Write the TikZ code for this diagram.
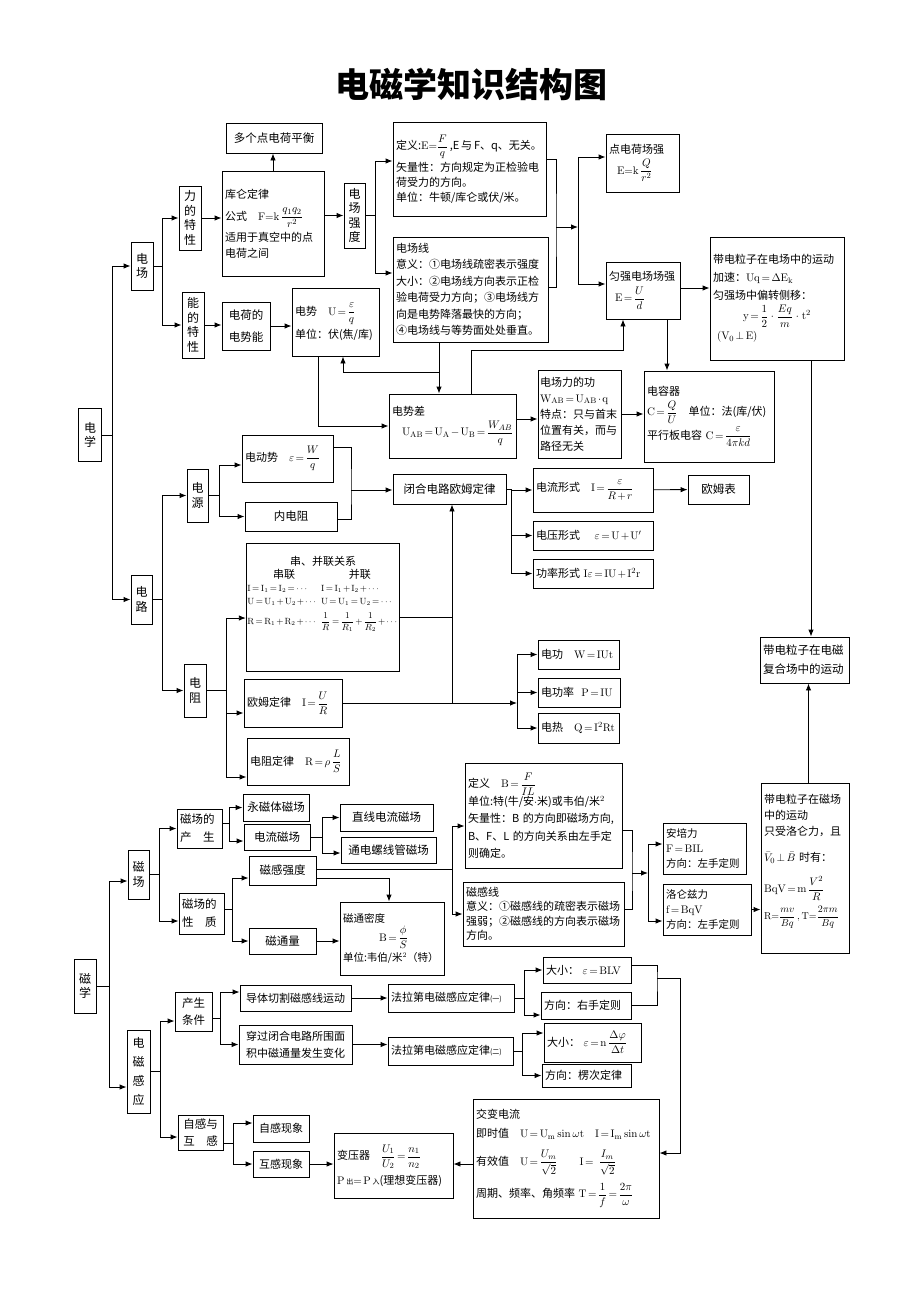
\documentclass[tikz,border=0pt]{standalone}
\usepackage[no-math]{fontspec}
\setmainfont{Noto Sans CJK SC}
\usepackage{amsmath}
\usetikzlibrary{arrows.meta}
\relpenalty=10000
\binoppenalty=10000
\thickmuskip=2.5mu
\medmuskip=2mu

\tikzset{
  box/.style={draw, inner xsep=3pt, inner ysep=2pt, align=center, font=\fontsize{11.5}{15}\selectfont},
  txt/.style={box, align=left, font=\fontsize{11}{16}\selectfont},
  vbox/.style={box, inner xsep=4pt, font=\fontsize{12}{14.5}\selectfont},
}

\begin{document}
\begin{tikzpicture}[x=1pt, y=-1pt, line width=0.9pt, >={Latex[length=7pt,width=5.5pt]}]
    \useasboundingbox (0,0) rectangle (920,1304);
    \node [font=\fontsize{34}{34}\selectfont\bfseries] (title) at (471,84) {电磁学知识结构图};

    \node [vbox, minimum width=23, minimum height=53] (dianxue) at (90,435) {电\\学};
    \node [vbox, minimum width=22, minimum height=48] (dianchang) at (142,266) {电\\场};
    \node [vbox, minimum width=22, minimum height=64] (lite) at (190,218) {力\\的\\特\\性};
    \node [vbox, minimum width=22, minimum height=66] (nengte) at (193,325) {能\\的\\特\\性};
    \node [txt, text width=96, minimum height=105] (kulun) at (273,223.5) {库仑定律\\[6pt]公式\quad $\mathrm{F{=}k}\,\dfrac{q_1q_2}{r^2}$\\[3pt]适用于真空中的点\\电荷之间};
    \node [box, minimum width=96, minimum height=30] (duoge) at (274,138) {多个点电荷平衡};
    \node [box, minimum width=48, minimum height=48, font=\fontsize{11.5}{22}\selectfont] (dianshineng) at (246,326) {电荷的\\电势能};
    \node [txt, text width=81, minimum height=68] (dianshi) at (335.5,322) {电势\quad $\mathrm{U}=\dfrac{\varepsilon}{q}$\\[4pt]单位：伏(焦/库)};
    \node [vbox, minimum width=21, minimum height=65] (qiangdu) at (354.5,215.5) {电\\场\\强\\度};
    \node [txt, text width=147, minimum height=94, font=\fontsize{11}{15}\selectfont] (dingyi) at (469.5,169) {\mbox{定义:$\mathrm{E}{=}\dfrac{F}{q}$\,,E\,与\,F、q、无关。}\\[2pt]矢量性：方向规定为正检验电\\荷受力的方向。\\单位：牛顿/库仑或伏/米。};
    \node [txt, text width=149, minimum height=105, font=\fontsize{11}{16.5}\selectfont] (dianchangxian) at (470.5,289.5) {电场线\\意义：①电场线疏密表示强度\\大小：②电场线方向表示正检\\验电荷受力方向；③电场线方\\向是电势降落最快的方向；\\④电场线与等势面处处垂直。};
    \node [txt, text width=67, minimum height=58] (dianhe) at (642.5,163) {点电荷场强\\[5pt]\hspace*{8pt}$\mathrm{E{=}k}\;\dfrac{Q}{r^2}$};
    \node [txt, text width=68, minimum height=57] (yunqiang) at (643,290.5) {匀强电场场强\\[5pt]\hspace*{6pt}$\mathrm{E}=\dfrac{U}{d}$};
    \node [txt, text width=128, minimum height=123] (lizi) at (777,298.5) {带电粒子在电场中的运动\\[2pt]加速：$\mathrm{Uq=\Delta E_k}$\\[2pt]匀强场中偏转侧移：\\[4pt]\hspace*{30pt}$\mathrm{y}=\dfrac{1}{2}\;\cdot\;\dfrac{Eq}{m}\;\cdot\,\mathrm{t}^2$\\[4pt]\hspace*{4pt}$(\mathrm{V_0\perp E})$};
    \node [txt, text width=124, minimum height=91] (dianrong) at (709,416.5) {电容器\\[4pt]$\mathrm{C}=\dfrac{Q}{U}$\quad 单位：法(库/伏)\\[3pt]平行板电容 $\mathrm{C}=\dfrac{\varepsilon}{4\pi kd}$};
    \node [txt, inner xsep=2pt, text width=79, minimum height=88] (gong) at (579.5,414) {电场力的功\\$\mathrm{W_{AB}=U_{AB}\cdot q}$\\特点：只与首末\\位置有关，而与\\路径无关};
    \node [txt, text width=121, minimum height=64] (dianshicha) at (452.5,426) {电势差\\[4pt]\hspace*{10pt}$\mathrm{U_{AB}=U_A-U_B}=\dfrac{W_{AB}}{q}$};

    \node [vbox, minimum width=21, minimum height=49] (dianlu) at (141.5,599.5) {电\\路};
    \node [vbox, minimum width=21, minimum height=53] (dianyuan) at (197.5,495.5) {电\\源};
    \node [vbox, minimum width=22, minimum height=53] (dianzu) at (195,690.5) {电\\阻};
    \node [txt, text width=85, minimum height=47] (dongshi) at (287.5,458.5) {电动势\quad $\varepsilon=\dfrac{W}{q}$};
    \node [box, minimum width=92, minimum height=29] (neizu) at (291,516.5) {内电阻};
    \node [box, minimum width=113, minimum height=30] (bihe) at (449.5,489) {闭合电路欧姆定律};
    \node [txt, text width=114, minimum height=44] (liuxing) at (593,490) {电流形式\quad $\mathrm{I}=\dfrac{\varepsilon}{R+r}$};
    \node [box, minimum width=61, minimum height=29] (oumubiao) at (718.5,489.5) {欧姆表};
    \node [txt, text width=114, minimum height=29] (yaxing) at (593,535.5) {电压形式\quad\ $\varepsilon=\mathrm{U+U'}$};
    \node [txt, text width=114, minimum height=29] (gongxing) at (593,573.5) {功率形式 $\mathrm{I}\varepsilon=\mathrm{IU+I^2r}$};
    \node [box, minimum width=152, minimum height=128, inner xsep=1pt, font=\fontsize{9}{13}\selectfont] (chuanbing) at (323,607) {\medmuskip=2mu \thickmuskip=3mu
      \begin{tabular}{@{}l@{\hspace{5pt}}l@{}}
        \multicolumn{2}{c}{\fontsize{11}{14}\selectfont 串、并联关系}\\
        \multicolumn{1}{c}{\fontsize{11}{14}\selectfont 串联} & \multicolumn{1}{c}{\fontsize{11}{14}\selectfont 并联}\\
        $\mathrm{I=I_1=I_2=\cdots}$ & $\mathrm{I=I_1+I_2+\cdots}$\\
        $\mathrm{U=U_1+U_2+\cdots}$ & $\mathrm{U=U_1=U_2=\cdots}$\\[4pt]
        $\mathrm{R=R_1+R_2+\cdots}$ & $\dfrac{1}{R}=\dfrac{1}{R_1}+\dfrac{1}{R_2}+\cdots$\\[30pt]
      \end{tabular}};
    \node [txt, text width=92, minimum height=48] (oumu) at (293,703) {欧姆定律\quad $\mathrm{I}=\dfrac{U}{R}$};
    \node [txt, text width=96, minimum height=47] (zudinglv) at (298,761.5) {电阻定律\quad $\mathrm{R}=\rho\;\dfrac{L}{S}$};
    \node [txt, text width=75, minimum height=29] (diangong) at (578.5,654.5) {电功\quad $\mathrm{W=IUt}$};
    \node [txt, text width=76, minimum height=29] (diangonglv) at (579,692.5) {电功率\ \ $\mathrm{P=IU}$};
    \node [txt, text width=75, minimum height=30] (dianre) at (578.5,728) {电热\quad $\mathrm{Q=I^2Rt}$};
    \node [txt, text width=83, minimum height=46, font=\fontsize{11.5}{19}\selectfont] (fuhe) at (804.5,660) {带电粒子在电磁\\复合场中的运动};

    \node [vbox, minimum width=22, minimum height=54] (cixue) at (85,986) {磁\\学};
    \node [vbox, minimum width=21, minimum height=49] (cichang) at (138.5,874.5) {磁\\场};
    \node [txt, text width=39, minimum height=39, font=\fontsize{11.5}{18}\selectfont] (chansheng) at (199.5,828.5) {磁场的\\产\hspace{11.5pt}生};
    \node [txt, text width=39, minimum height=41, font=\fontsize{11.5}{18}\selectfont] (xingzhi) at (201.5,913.5) {磁场的\\性\hspace{11.5pt}质};
    \node [box, minimum width=66, minimum height=27] (yongci) at (276,807.5) {永磁体磁场};
    \node [box, minimum width=66, minimum height=26] (dianliuci) at (277,837) {电流磁场};
    \node [box, minimum width=93, minimum height=27] (zhixian) at (386.5,817.5) {直线电流磁场};
    \node [box, minimum width=95, minimum height=26] (luoxian) at (388.5,850) {通电螺线管磁场};
    \node [box, minimum width=67, minimum height=29] (ciqiang) at (282.5,870.5) {磁感强度};
    \node [box, minimum width=67, minimum height=26] (citong) at (282.5,941) {磁通量};
    \node [txt, text width=98, minimum height=73, font=\fontsize{10.5}{16}\selectfont] (mitong) at (392,938.5) {磁通密度\\[3pt]\hspace*{36pt}$\mathrm{B}=\dfrac{\phi}{S}$\\[3pt]单位:韦伯/米$^2$（特）};
    \node [txt, text width=151, minimum height=105, font=\fontsize{11}{17.5}\selectfont] (dingyiB) at (543.5,815.5) {定义\quad $\mathrm{B}=\dfrac{F}{IL}$\\单位:特(牛/安$\cdot$米)或韦伯/米$^2$\\矢量性：B 的方向即磁场方向,\\B、F、L 的方向关系由左手定\\则确定。};
    \node [txt, text width=155, minimum height=64, font=\fontsize{11}{14.5}\selectfont] (ciganxian) at (543.5,914) {磁感线\\意义：①磁感线的疏密表示磁场\\强弱；②磁感线的方向表示磁场\\方向。};
    \node [txt, text width=77, minimum height=51, font=\fontsize{10.5}{15}\selectfont] (anpei) at (704.5,848.5) {安培力\\$\mathrm{F=BIL}$\\方向：左手定则};
    \node [txt, text width=82, minimum height=51, font=\fontsize{10.5}{15}\selectfont] (luolun) at (707,909.5) {洛仑兹力\\$\mathrm{f=BqV}$\\方向：左手定则};
    \node [txt, text width=82, minimum height=170] (lizici) at (805,868) {带电粒子在磁场\\中的运动\\只受洛仑力，且\\[10pt]$\bar{V}_0\perp\bar{B}$ 时有：\\[12pt]$\mathrm{BqV=m}\,\dfrac{V^2}{R}$\\[5pt]{\fontsize{10}{14}\selectfont$\mathrm{R}{=}\dfrac{mv}{Bq}\,,\mathrm{T}{=}\dfrac{2\pi m}{Bq}$}\\[6pt]\mbox{}};
    \node [vbox, minimum width=23, minimum height=83, font=\fontsize{12}{19}\selectfont] (diangan) at (138.5,1071.5) {电\\磁\\感\\应};
    \node [box, minimum width=37, minimum height=39, font=\fontsize{11.5}{17}\selectfont] (tiaojian) at (193.5,1011.5) {产生\\条件};
    \node [box, minimum width=45, minimum height=35, align=left, font=\fontsize{11.5}{17}\selectfont] (zihu) at (200.5,1132.5) {自感与\\互\hspace{11.5pt}感};
    \node [box, minimum width=111, minimum height=26, font=\fontsize{11}{14}\selectfont] (qiege) at (295.5,998) {导体切割磁感线运动};
    \node [box, minimum width=113, minimum height=39, font=\fontsize{11}{17}\selectfont] (chuanguo) at (295.5,1044.5) {穿过闭合电路所围面\\积中磁通量发生变化};
    \node [txt, text width=120, minimum height=28] (falaA) at (451,998) {法拉第电磁感应定律{\fontsize{7}{7}\selectfont(一)}};
    \node [txt, text width=119, minimum height=28] (falaB) at (450.5,1051) {法拉第电磁感应定律{\fontsize{7}{7}\selectfont(二)}};
    \node [txt, text width=82, minimum height=26] (daxiaoA) at (587,970) {大小：\ $\varepsilon=\mathrm{BLV}$};
    \node [txt, text width=84, minimum height=27] (fangxiangA) at (586,1005.5) {方向：右手定则};
    \node [txt, text width=91, minimum height=39] (daxiaoB) at (592.5,1042.5) {大小：\ $\varepsilon=\mathrm{n}\,\dfrac{\Delta\varphi}{\Delta t}$};
    \node [txt, text width=83, minimum height=23] (fangxiangB) at (586.5,1075.5) {方向：楞次定律};
    \node [box, minimum width=56, minimum height=27, font=\fontsize{11}{14}\selectfont] (zigan) at (281,1128.5) {自感现象};
    \node [box, minimum width=56, minimum height=26, font=\fontsize{11}{14}\selectfont] (hugan) at (281,1164) {互感现象};
    \node [txt, text width=113, minimum height=65] (bianya) at (393.5,1165.5) {变压器\quad $\dfrac{U_1}{U_2}=\dfrac{n_1}{n_2}$\\[5pt]$\mathrm{P}$\,{\fontsize{7}{7}\selectfont 出}$=\mathrm{P}$\,{\fontsize{7}{7}\selectfont 入}(理想变压器)};
    \node [txt, text width=180, minimum height=119] (jiaobian) at (566,1158.5) {交变电流\\[3pt]即时值\quad $\mathrm{U=U_m\sin\omega t}$\quad $\mathrm{I=I_m\sin\omega t}$\\[10pt]有效值\quad $\mathrm{U}=\dfrac{U_m}{\sqrt2}$\qquad $\mathrm{I}=\ \dfrac{I_m}{\sqrt2}$\\[7pt]周期、频率、角频率 $\mathrm{T}=\dfrac{1}{f}=\dfrac{2\pi}{\omega}$};

    \coordinate (sp1) at (112,435);
    \draw (dianxue.east) -- (sp1);
    \draw [->] (sp1) |- (dianchang);
    \draw [->] (sp1) |- (dianlu);
    \coordinate (b1) at (162,266);
    \draw (dianchang) -- (b1);
    \draw [->] (b1) |- (lite);
    \draw [->] (b1) |- (nengte);
    \draw [->] (lite) -- (lite -| kulun.west);
    \draw [->] (kulun.north) -- (kulun.north |- duoge.south);
    \draw [->] (nengte) -- (nengte -| dianshineng.west);
    \draw [->] (dianshineng) -- (dianshineng -| dianshi.west);
    \draw [->] (kulun.east |- qiangdu) -- (qiangdu);
    \coordinate (b2) at (375,215.5);
    \draw (qiangdu) -- (b2);
    \draw [->] (b2) |- ([yshift=8pt]dingyi.west);
    \draw [->] (b2) |- ([yshift=16.5pt]dianchangxian.west);
    \coordinate (b3) at (556,227);
    \draw ([yshift=10pt]dingyi.east) -| (b3) |- ([yshift=2.5pt]dianchangxian.east);
    \coordinate (b4) at (578,227);
    \draw [->] (b3) -- (b4);
    \draw [->] (b4) |- ([yshift=6pt]dianhe.west);
    \draw [->] (b4) |- ([yshift=6.5pt]yunqiang.west);
    \coordinate (c1) at ([yshift=2.5pt]yunqiang.east);
    \draw [->] (c1) -- (c1 -| lizi.west);
    \coordinate (c2) at ([xshift=6.5pt]fuhe.north);
    \draw [->] (c2 |- lizi.south) -- (c2);
    \coordinate (c3) at ([xshift=4pt]fuhe.south);
    \draw [->] (c3 |- lizici.north) -- (c3);
    \coordinate (c4) at ([xshift=24pt]yunqiang.south);
    \draw [->] (c4) -- (c4 |- dianrong.north);
    \coordinate (c5) at ([xshift=18.5pt]dianshicha.north);
    \coordinate (c6) at ([xshift=-20pt]yunqiang.south);
    \coordinate (k1) at (623,350);
    \draw [->] (c5) |- (k1) -- (c6);
    \coordinate (c7) at ([xshift=-31.5pt]dianchangxian.south);
    \draw [->] (c7) -- (c7 |- dianshicha.north);
    \coordinate (k2) at (439,372);
    \coordinate (c8) at ([xshift=7.5pt]dianshi.south);
    \draw [->] (k2) -| (c8);
    \coordinate (c9) at ([xshift=-17.5pt]dianshi.south);
    \draw [->] (c9) |- (dianshicha);
    \coordinate (c10) at ([yshift=7pt]dianshicha.east);
    \draw [->] (c10) -- (c10 -| gong.west);
    \draw [->] (gong) -- (gong -| dianrong.west);

    \coordinate (b5) at (162,599.5);
    \draw (dianlu) -- (b5);
    \draw [->] (b5) |- (dianyuan);
    \draw [->] (b5) |- (dianzu);
    \coordinate (b6) at (219,495.5);
    \draw (dianyuan) -- (b6);
    \draw [->] (b6) |- ([yshift=-6.5pt]dongshi.west);
    \draw [->] (b6) |- (neizu);
    \coordinate (b7) at (351,490);
    \draw ([yshift=11.5pt]dongshi.east) -| (b7) |- ([yshift=-2.5pt]neizu.east);
    \draw [->] (b7) -- (b7 -| bihe.west);
    \coordinate (b8) at (511,489);
    \draw (bihe) -- (b8);
    \draw [->] (b8) |- (liuxing);
    \draw [->] (b8) |- (yaxing);
    \draw [->] (b8) |- (gongxing);
    \draw [->] (liuxing) -- (oumubiao);
    \coordinate (b9) at (226,690.5);
    \draw (dianzu) -- (b9);
    \draw [->] (b9) |- ([yshift=-11pt]chuanbing.west);
    \draw [->] (b9) |- ([yshift=-10pt]oumu.west);
    \draw [->] (b9) |- ([yshift=-15.5pt]zudinglv.west);
    \coordinate (k3) at (452,703);
    \coordinate (c11) at ([yshift=-10pt]chuanbing.east);
    \draw (c11) -- (c11 -| k3);
    \draw [->] (k3) -- (k3 |- bihe.south);
    \coordinate (b10) at (517,703);
    \draw [->] (oumu) -- (b10);
    \draw [->] (b10) |- (diangong);
    \draw [->] (b10) |- (diangonglv);
    \draw [->] (b10) |- (dianre);

    \coordinate (sp2) at (109,986);
    \draw (cixue) -- (sp2);
    \draw [->] (sp2) |- ([yshift=-6.5pt]cichang.west);
    \draw [->] (sp2) |- ([yshift=-15.5pt]diangan.west);
    \coordinate (b11) at (159,874.5);
    \draw (cichang) -- (b11);
    \draw [->] (b11) |- (chansheng);
    \draw [->] (b11) |- ([yshift=-7.5pt]xingzhi.west);
    \coordinate (b12) at (229,823);
    \draw ([yshift=5.5pt]chansheng.east) -- (b12);
    \draw [->] (b12) |- (yongci);
    \draw [->] (b12) |- ([yshift=-4pt]dianliuci.west);
    \coordinate (b13) at (322,837);
    \draw (dianliuci) -- (b13);
    \draw [->] (b13) |- (zhixian);
    \draw [->] (b13) |- ([yshift=-3pt]luoxian.west);
    \coordinate (b14) at (232,909);
    \draw ([yshift=4.5pt]xingzhi.east) -- (b14);
    \draw [->] (b14) |- ([yshift=-7.5pt]ciqiang.west);
    \draw [->] (b14) |- (citong);
    \coordinate (b15) at (452,869.5);
    \draw ([yshift=1pt]ciqiang.east) -- (b15);
    \draw [->] (b15) |- ([yshift=-10.5pt]dingyiB.west);
    \draw [->] (b15) |- (ciganxian);
    \coordinate (c12) at ([yshift=-7.5pt]ciqiang.east);
    \coordinate (c13) at ([xshift=-3pt]mitong.north);
    \draw [->] (c12) -| (c13);
    \draw [->] (citong) -- (citong -| mitong.west);
    \coordinate (b16) at (632,873);
    \draw ([yshift=-14.5pt]dingyiB.east) -| (b16) |- ([yshift=5pt]ciganxian.east);
    \coordinate (b17) at (648,873);
    \draw [->] (b16) -- (b17);
    \draw [->] (b17) |- ([yshift=4.5pt]anpei.west);
    \draw [->] (b17) |- ([yshift=-11.5pt]luolun.west);
    \draw [->] (luolun) -- (luolun -| lizici.west);

    \coordinate (b18) at (160,1071.5);
    \draw (diangan) -- (b18);
    \draw [->] (b18) |- ([yshift=-9.5pt]tiaojian.west);
    \draw [->] (b18) |- ([yshift=-4.5pt]zihu.west);
    \coordinate (b19) at (220,1018);
    \draw ([yshift=-6.5pt]tiaojian.east) -- (b19);
    \draw [->] (b19) |- ([yshift=6pt]qiege.west);
    \draw [->] (b19) |- (chuanguo);
    \draw [->] (qiege) -- (falaA);
    \draw [->] (chuanguo) -- (chuanguo -| falaB.west);
    \coordinate (b20) at (524,998);
    \draw (falaA) -- (b20);
    \draw [->] (b20) |- (daxiaoA);
    \draw [->] (b20) |- ([yshift=-9.5pt]fangxiangA.west);
    \coordinate (b21) at (522,1051);
    \draw (falaB) -- (b21);
    \draw [->] (b21) |- ([yshift=9.5pt]daxiaoB.west);
    \draw [->] (b21) |- (fangxiangB);
    \coordinate (b22) at (657,978);
    \draw ([yshift=5pt]daxiaoA.east) -| (b22) |- (fangxiangA.east);
    \coordinate (k5) at (680,978);
    \coordinate (c14) at ([yshift=5.5pt]jiaobian.east);
    \draw [->] (b22) -- (k5) |- (c14);
    \coordinate (b23) at (233,1143);
    \draw ([yshift=-10.5pt]zihu.east) -- (b23);
    \draw [->] (b23) |- ([yshift=5.5pt]zigan.west);
    \draw [->] (b23) |- (hugan);
    \draw [->] (hugan) -- (hugan -| bianya.west);
    \coordinate (c15) at ([yshift=-5.5pt]jiaobian.west);
    \draw [->] (c15) -- (c15 -| bianya.east);
  \end{tikzpicture}
\end{document}
